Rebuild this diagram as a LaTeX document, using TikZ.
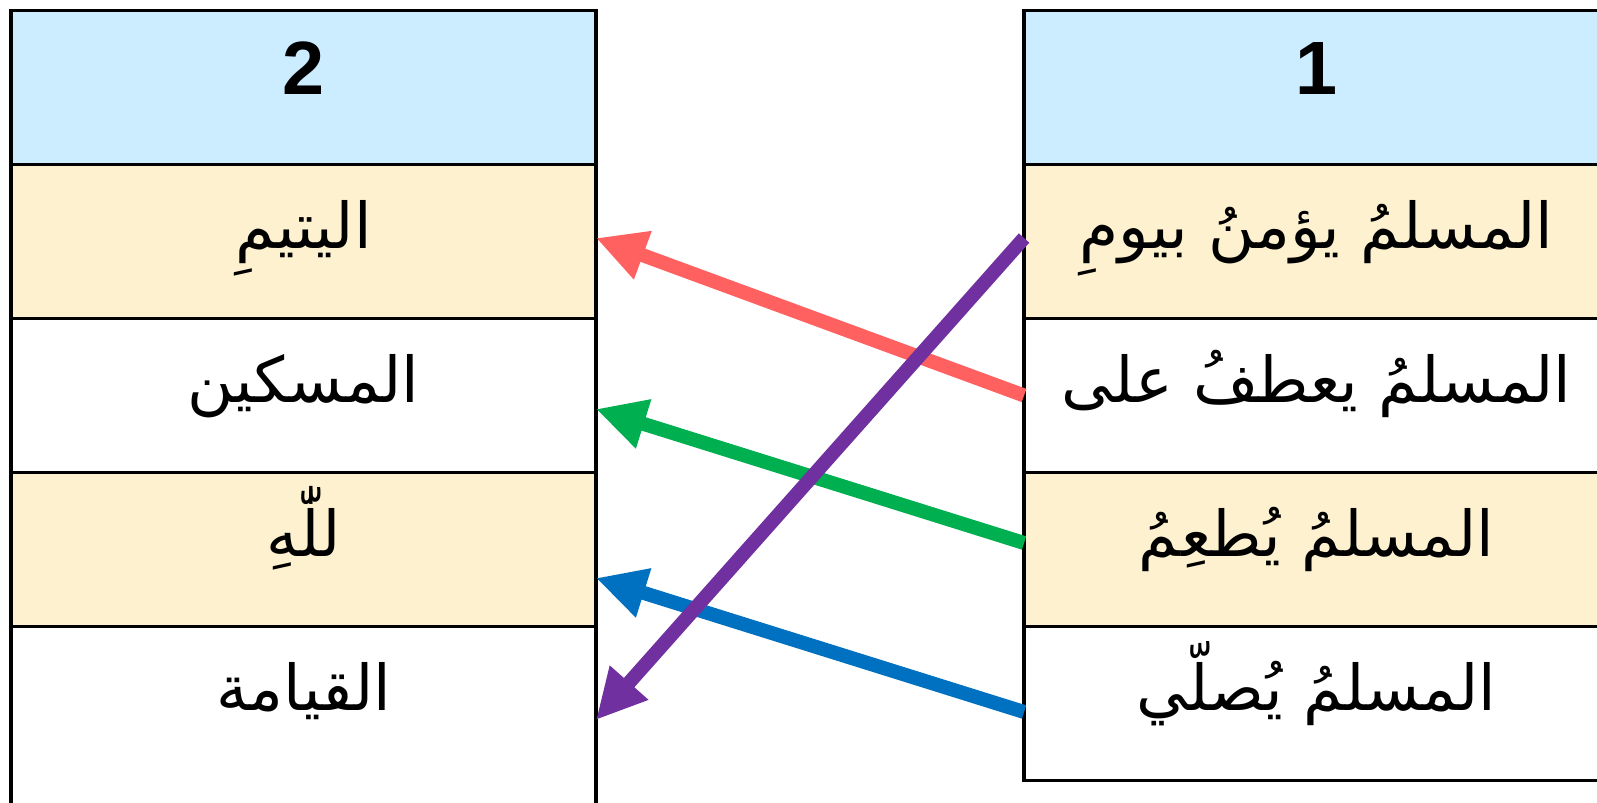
\documentclass[tikz,border=0pt]{standalone}
\usepackage{fontspec}
\setmainfont{Liberation Sans}
\newfontfamily\arabicfont[Script=Arabic]{DejaVu Sans}
\TeXXeTstate=1
\usetikzlibrary{arrows.meta}
\definecolor{headblue}{HTML}{CCECFF}
\definecolor{rowcream}{RGB}{253,241,208}
\definecolor{linkred}{HTML}{FF6161}
\definecolor{linkgreen}{HTML}{00B050}
\definecolor{linkblue}{HTML}{0070C0}
\definecolor{linkpurple}{HTML}{7030A0}
\newcommand{\ar}[1]{{\arabicfont\beginR #1\endR}}
\tikzset{
  cell/.style={draw, line width=0.07cm, minimum width=11.7cm, minimum height=3.08cm,
    inner sep=0pt, outer sep=0pt, text height=0.45cm, text depth=0.17cm,
    font=\fontsize{36}{40}\selectfont},
  headcell/.style={cell, fill=headblue, font=\fontsize{43}{46}\selectfont\bfseries},
  link/.style={line width=0.28cm, -{Triangle[length=1cm,width=0.96cm]}},
}
\begin{document}
\begin{tikzpicture}[x=0.02cm,y=-0.02cm]
  \useasboundingbox (0,0) rectangle (1597,803);
  \clip (0,0) rectangle (1597,803);

  %column 2 (left)
  \node[headcell] (l0) at (303.5,87.5) {2};
  \node[cell, fill=rowcream] (l1) at (303.5,241.5) {\ar{اليتيمِ}};
  \node[cell] (l2) at (303.5,395.5) {\ar{المسكين}};
  \node[cell, fill=rowcream] (l3) at (303.5,549.5) {\ar{للّٰهِ}};
  \node[cell, draw=none] (l4) at (303.5,703.5) {\ar{القيامة}};
  \draw[line width=0.07cm] (l4.north west) -- ++(0,200);
  \draw[line width=0.07cm] (l4.north east) -- ++(0,200);

  %column 1 (right)
  \node[headcell] (r0) at (1316.5,87.5) {1};
  \node[cell, fill=rowcream] (r1) at (1316.5,241.5) {\ar{المسلمُ يؤمنُ بيومِ}};
  \node[cell] (r2) at (1316.5,395.5) {\ar{المسلمُ يعطفُ على}};
  \node[cell, fill=rowcream] (r3) at (1316.5,549.5) {\ar{المسلمُ يُطعِمُ}};
  \node[cell] (r4) at (1316.5,703.5) {\ar{المسلمُ يُصلّي}};

  %matching arrows
  \draw[link, linkred] (r2.west) -- ([yshift=0.07cm]l1.east);
  \draw[link, linkgreen] ([yshift=0.13cm]r3.west) -- ([yshift=-0.27cm]l2.east);
  \draw[link, linkblue] ([yshift=-0.17cm]r4.west) -- ([yshift=-0.57cm]l3.east);
  \draw[link, linkpurple] ([yshift=0.07cm]r1.west) -- ([yshift=-0.33cm]l4.east);
\end{tikzpicture}
\end{document}
